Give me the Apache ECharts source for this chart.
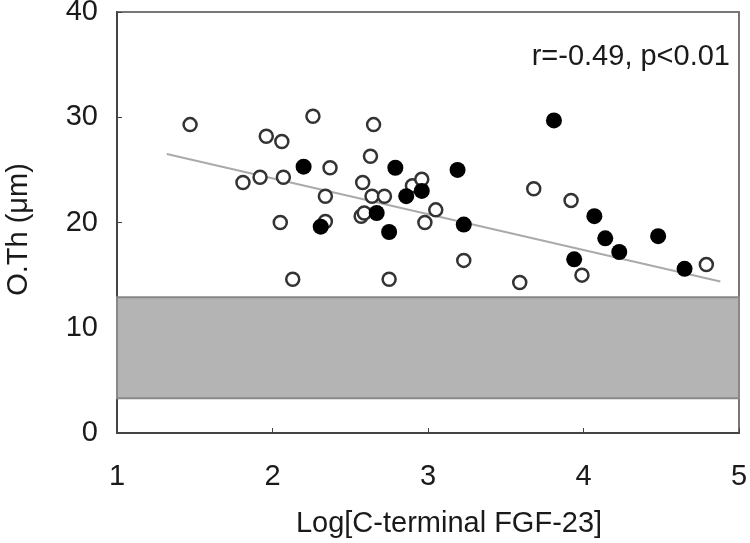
<!DOCTYPE html>
<html><head><meta charset="utf-8">
<script src="https://cdn.jsdelivr.net/npm/echarts@6/dist/echarts.min.js"></script>
<style>html,body{margin:0;padding:0;background:#fff}#c{width:750px;height:543px}</style>
</head><body><div id="c"></div>
<script>
const openPts = [
 [1.47,29.3],[1.96,28.2],[2.06,27.7],[2.26,30.1],[1.81,23.8],[1.92,24.3],[2.07,24.3],
 [2.05,20.0],[2.13,14.6],[2.34,22.5],[2.65,29.3],[2.63,26.3],[2.37,25.2],[2.58,23.8],
 [2.64,22.5],[2.72,22.5],[2.90,23.5],[2.96,24.1],[2.57,20.6],[2.59,20.9],[2.34,20.1],
 [2.98,20.0],[3.05,21.2],[3.23,16.4],[2.75,14.6],[3.59,14.3],[3.68,23.2],[3.92,22.1],
 [3.99,15.0],[4.79,16.0]
];
const filledPts = [
 [2.20,25.3],[2.31,19.6],[2.79,25.2],[3.19,25.0],[2.86,22.5],[2.96,23.0],[2.67,20.9],
 [2.75,19.1],[3.23,19.8],[3.81,29.7],[4.07,20.6],[4.14,18.5],[4.23,17.2],[4.48,18.7],
 [3.94,16.5],[4.65,15.6]
];
const fitLine = [[1.32,26.5],[4.88,14.4]];
const normalBand = [3.3, 12.9];
const xTicks = [1,2,3,4,5];
const yTicks = [0,10,20,30,40];
const statText = 'r=-0.49, p<0.01';

const chart = echarts.init(document.getElementById('c'));
const font = 'Liberation Sans, Arial, sans-serif';
const txt = '#1a1a1a';
chart.setOption({
  animation:false,
  backgroundColor:'#fff',
  title:{text:statText, right:20, top:42, padding:0,
    textStyle:{fontFamily:font, fontSize:29, fontWeight:'normal', color:txt}},
  grid:{left:117, right:11, top:12, bottom:110, show:true, borderColor:'#777', borderWidth:2,
    containLabel:false, outerBoundsMode:'none'},
  xAxis:{type:'value', min:xTicks[0], max:xTicks[xTicks.length-1], interval:1,
    name:'Log[C-terminal FGF-23]', nameLocation:'middle', nameGap:76,
    nameTextStyle:{fontFamily:font, fontSize:29, color:txt, padding:[0,0,0,42]},
    axisLine:{lineStyle:{color:'#444', width:2}},
    axisTick:{inside:true, length:5, lineStyle:{color:'#444'}},
    axisLabel:{fontFamily:font, fontSize:29, color:txt, margin:29},
    splitLine:{show:false}},
  yAxis:{type:'value', min:yTicks[0], max:yTicks[yTicks.length-1], interval:10,
    name:'O.Th (μm)', nameLocation:'middle', nameGap:84, nameRotate:90,
    nameTextStyle:{fontFamily:font, fontSize:29, color:txt, padding:[0,14,0,0]},
    axisLine:{lineStyle:{color:'#444', width:2}},
    axisTick:{inside:true, length:5, lineStyle:{color:'#444'}},
    axisLabel:{fontFamily:font, fontSize:29, color:txt, margin:19},
    splitLine:{show:false}},
  series:[
    {type:'line', data:[], z:1,
     markArea:{silent:true, itemStyle:{color:'#b4b4b4', borderColor:'#888', borderWidth:2},
       data:[[{xAxis:xTicks[0], yAxis:normalBand[0]},{xAxis:xTicks[xTicks.length-1], yAxis:normalBand[1]}]]}},
    {type:'line', data:fitLine, z:2, symbol:'none', lineStyle:{color:'#aaa', width:2}},
    {type:'scatter', data:openPts, z:3, symbol:'circle', symbolSize:13,
     itemStyle:{color:'#fff', borderColor:'#333', borderWidth:2.5, opacity:1}},
    {type:'scatter', data:filledPts, z:4, symbol:'circle', symbolSize:16,
     itemStyle:{color:'#000', opacity:1}}
  ]
});
</script></body></html>
